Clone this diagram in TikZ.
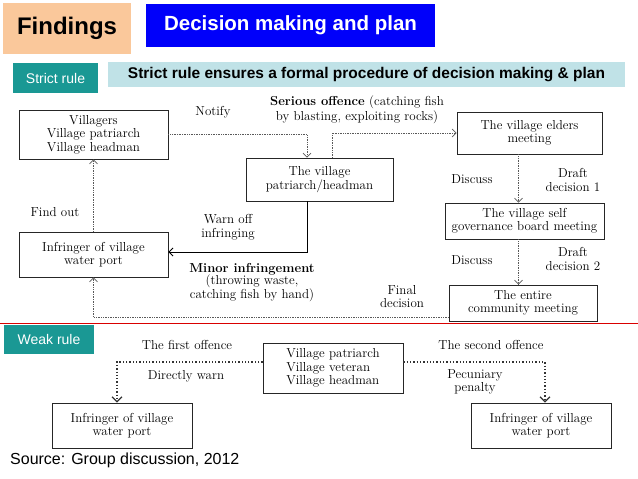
\documentclass[tikz,border=0pt]{standalone}
\usepackage{fontspec}
\newfontfamily\headfont{Liberation Sans}
\usetikzlibrary{positioning, arrows.meta}
\definecolor{peach}{RGB}{250, 200, 155}
\definecolor{slideblue}{RGB}{0, 0, 250}
\definecolor{tealtag}{RGB}{26, 152, 148}
\definecolor{palecyan}{RGB}{192, 226, 231}
\newcommand{\dfont}{\fontsize{13}{13.5}\selectfont}

\begin{document}
\begin{tikzpicture}[x=1pt, y=-1pt,
      b/.style={draw=black!85, line width=0.8pt, align=center, inner sep=0pt, font=\dfont},
      l/.style={align=center, inner sep=0pt, font=\dfont},
      tag/.style={fill=tealtag, text=white, inner sep=0pt, font=\headfont\fontsize{14}{16}\selectfont},
      dots/.style={densely dotted, line width=0.7pt, color=black!65, -{Straight Barb[length=4pt, width=8pt]}},
      bigdots/.style={dotted, line width=1.3pt, color=black!80, -{Straight Barb[length=5pt, width=10pt, line width=1.2pt]}},
      arr/.style={line width=0.9pt, -{Straight Barb[length=4pt, width=8pt]}}]
    \useasboundingbox (0,0) rectangle (638,479);
    % header
    \node[fill=peach, minimum width=128pt, minimum height=51pt, font=\headfont\bfseries\fontsize{24}{28}\selectfont] (find) at (67,28.5) {Findings};
    \node[fill=slideblue, text=white, minimum width=289pt, minimum height=43pt, font=\headfont\bfseries\fontsize{20.5}{24}\selectfont] (topic) at (290.5,25.5) {Decision making and plan};
    \node[tag, minimum width=85pt, minimum height=30pt] (strict) at (55.5,78) {Strict rule};
    \node[fill=palecyan, minimum width=517pt, minimum height=25pt, font=\headfont\bfseries\fontsize{15.5}{18}\selectfont] (banner) at (366.5,74.5) {Strict rule ensures a formal procedure of decision making \& plan};

    % strict rule
    \node[b, minimum width=149pt, minimum height=49pt] (vil) at (93.5,134.5) {Villagers\\Village patriarch\\Village headman};
    \node[b, minimum width=147pt, minimum height=43pt] (pat) at (319.5,179.5) {The village\\patriarch/headman};
    \node[b, minimum width=145pt, minimum height=42pt] (eld) at (529.5,133) {The village elders\\meeting};
    \node[b, minimum width=159pt, minimum height=36pt] (gov) at (524.5,221) {The village self\\governance board meeting};
    \node[b, minimum width=148pt, minimum height=36pt] (comm) at (523,303) {The entire\\community meeting};
    \node[b, minimum width=149pt, minimum height=45pt] (inf) at (93.5,254.5) {Infringer of village\\water port};

    \node[l] (notify) at (213,112) {Notify};
    \node[l, font=\fontsize{13}{15}\selectfont] (serious) at (357,110) {\textbf{Serious offence} (catching fish\\by blasting, exploiting rocks)};
    \node[l] (findout) at (55,212) {Find out};
    \node[l] (warnoff) at (228,227.5) {Warn off\\infringing};
    \node[l, font=\fontsize{13}{12.5}\selectfont] (minor) at (252,282.5) {\textbf{Minor infringement}\\(throwing waste,\\catching fish by hand)};
    \node[l] (disc1) at (472,179) {Discuss};
    \node[l] (draft1) at (573,180) {Draft\\decision 1};
    \node[l] (disc2) at (472,260) {Discuss};
    \node[l] (draft2) at (573,259) {Draft\\decision 2};
    \node[l] (final) at (402,296.5) {Final\\decision};

    \draw[dots] (vil.east) -| ([xshift=-12.5pt]pat.north);
    \draw[dots] ([xshift=12.5pt]pat.north) |- (eld.west);
    \draw[dots] ([xshift=-6pt]gov.north |- eld.south) -- ([xshift=-6pt]gov.north);
    \draw[dots] ([xshift=-6pt]gov.south) -- ([xshift=-6pt]gov.south |- comm.north);
    \draw[dots] ([yshift=4.5pt]comm.south west) -| (inf.south);
    \draw[dots] (inf.north) -- (vil.south);
    \draw[arr] ([xshift=-12.5pt]pat.south) |- ([yshift=2.5pt]inf.east);

    % weak rule
    \draw[red!85!black, line width=1.6pt] (0,323.5) -- (638,323.5);
    \node[tag, minimum width=90pt, minimum height=29pt] (weak) at (49,339.5) {Weak rule};
    \node[b, align=left, minimum width=140pt, minimum height=50pt] (vp) at (333,368) {Village patriarch\\Village veteran\\Village headman};
    \node[b, minimum width=140pt, minimum height=45pt] (infl) at (122,425.5) {Infringer of village\\water port};
    \node[b, minimum width=140pt, minimum height=45pt] (infr) at (541,425.5) {Infringer of village\\water port};

    \node[l] (first) at (187,345) {The first offence};
    \node[l] (direct) at (186,376) {Directly warn};
    \node[l] (second) at (491,345) {The second offence};
    \node[l] (penalty) at (475,382) {Pecuniary\\penalty};

    \draw[bigdots] ([yshift=6pt]vp.west) -| ([xshift=-5pt]infl.north);
    \draw[bigdots] ([yshift=6pt]vp.east) -| ([xshift=4pt]infr.north);

    \node[anchor=west, inner sep=0pt, font=\headfont\fontsize{16}{18}\selectfont] (source) at (10,460) {Source: Group discussion, 2012};
  \end{tikzpicture}
\end{document}
